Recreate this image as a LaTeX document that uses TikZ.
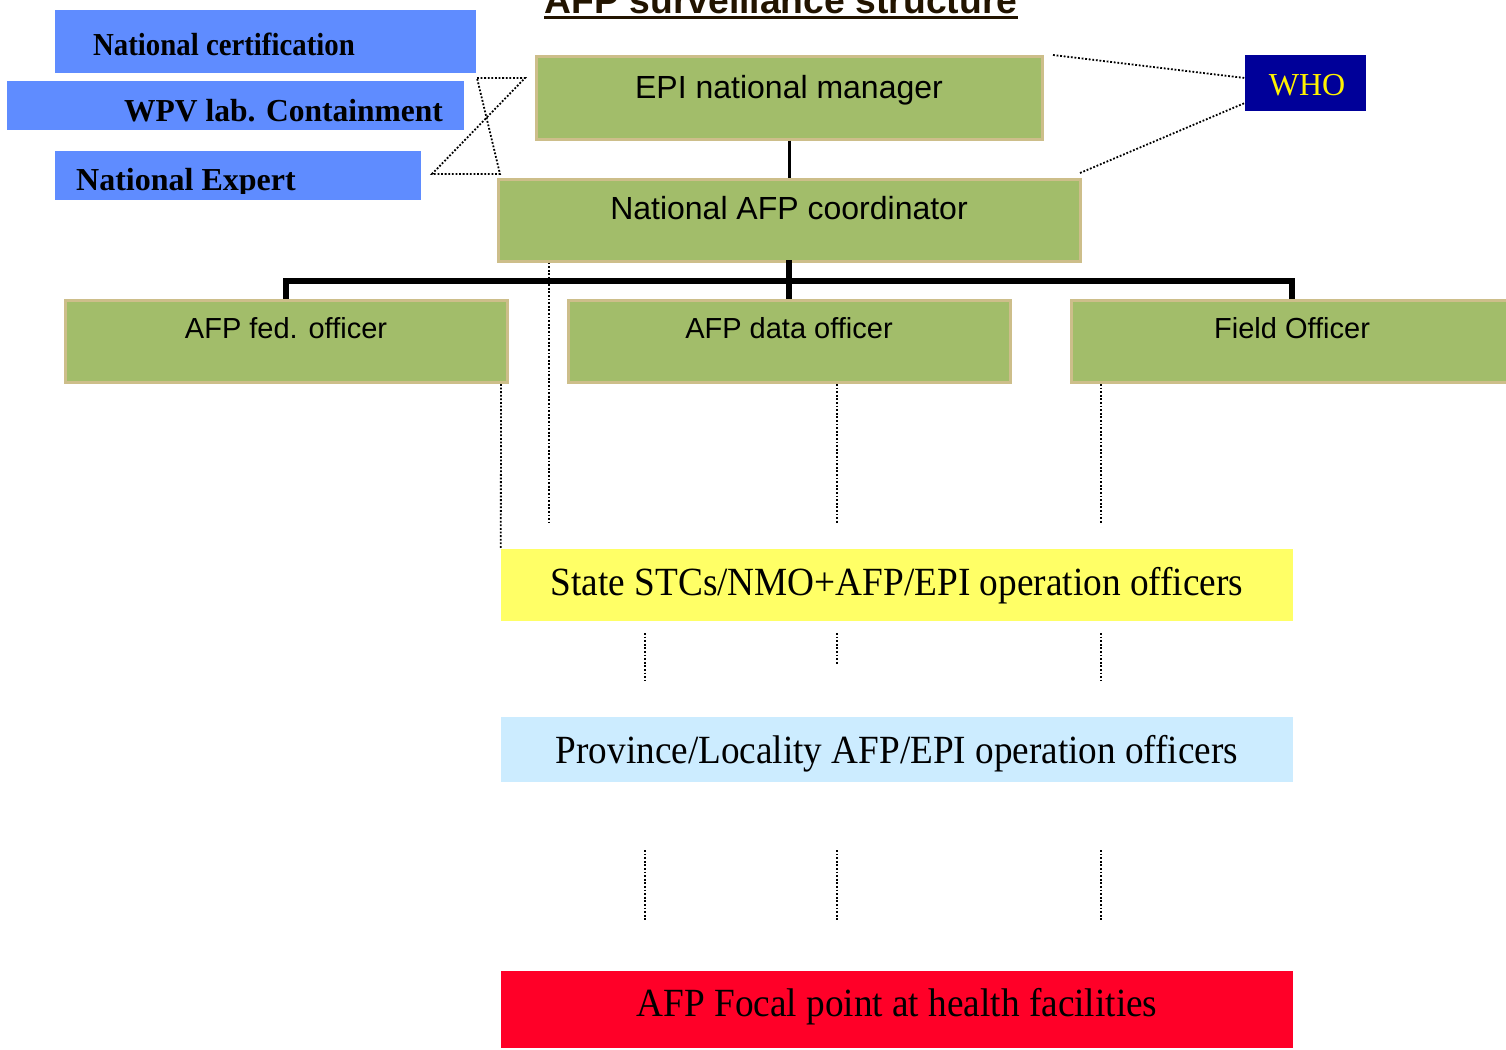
\documentclass[tikz,border=0pt]{standalone}
\usepackage{fontspec}
\usepackage{graphicx}
\setmainfont{Liberation Serif}
\newfontfamily\arialf{Liberation Sans}
\definecolor{gfill}{RGB}{162,189,106}
\definecolor{gbord}{RGB}{205,190,138}
\definecolor{bfill}{RGB}{95,140,255}
\definecolor{yfill}{RGB}{255,255,102}
\definecolor{lbfill}{RGB}{204,236,255}
\definecolor{rfill}{RGB}{255,0,40}
\definecolor{whofill}{RGB}{0,0,153}
\definecolor{titlec}{RGB}{34,20,0}
\begin{document}
\begin{tikzpicture}[x=1pt,y=-1pt,
  greenbox/.style={draw=gbord,line width=3pt,fill=gfill,inner sep=0pt},
  bluebox/.style={fill=bfill,inner sep=0pt},
  plainbox/.style={inner sep=0pt},
  txt/.style={inner sep=0pt,anchor=base},
  gtxtA/.style={txt,font=\arialf\fontsize{32}{38}\selectfont},
  gtxtB/.style={txt,font=\arialf\fontsize{29}{35}\selectfont},
  btxt/.style={inner sep=0pt,anchor=base west,font=\bfseries\fontsize{32}{38}\selectfont},
  ltxt/.style={txt,font=\fontsize{40}{46}\selectfont},
  dots/.style={line width=1.8pt,dash pattern=on 1.8pt off 1.8pt},
  thin/.style={line width=3pt},
  thick/.style={line width=5.5pt}]
\useasboundingbox (0,0) rectangle (1506,1049);
% title
\node[txt,font=\arialf\bfseries\fontsize{37.3}{44}\selectfont,text=titlec] (title) at (781,14) {AFP surveillance structure};
\draw[titlec,line width=3pt] ([yshift=-3.5pt]title.base west) -- ([yshift=-3.5pt]title.base east);
% blue boxes
\node[bluebox,minimum width=421pt,minimum height=63pt] (cert) at (265.5,41.5) {};
\node[btxt] (certt) at (93,56) {\scalebox{0.9}[1]{National certification}};
\node[bluebox,minimum width=457pt,minimum height=49pt] (wpv) at (235.5,105.5) {};
\node[btxt] (wpvt) at (124,121) {\scalebox{0.985}[1]{WPV lab. Containment}};
\node[bluebox,minimum width=366pt,minimum height=49pt] (expert) at (238,175.5) {};
\begin{scope}
\clip (55,151) rectangle (421,193);
\node[btxt] (expertt) at (76,190) {National Expert};
\end{scope}
% green boxes
\node[greenbox,minimum width=506pt,minimum height=82pt] (epi) at (789,98) {};
\node[gtxtA] (epit) at (789,98) {EPI national manager};
\node[greenbox,minimum width=582pt,minimum height=82pt] (coord) at (789,220) {};
\node[gtxtA] (coordt) at (789,219) {National AFP coordinator};
\node[greenbox,minimum width=442pt,minimum height=82pt] (fed) at (286,341) {};
\node[gtxtB] (fedt) at (286,338) {AFP fed. officer};
\node[greenbox,minimum width=442pt,minimum height=82pt] (data) at (789,341) {};
\node[gtxtB] (datat) at (789,338) {AFP data officer};
\node[greenbox,minimum width=442pt,minimum height=82pt] (field) at (1292,341) {};
\node[gtxtB] (fieldt) at (1292,338) {Field Officer};
% WHO
\node[plainbox,fill=whofill,minimum width=121pt,minimum height=56pt] (who) at (1305.5,83) {};
\node[txt,font=\fontsize{32}{38}\selectfont,text=yellow] (whot) at (1307,95) {WHO};
% lower boxes
\node[plainbox,fill=yfill,minimum width=792pt,minimum height=72pt] (state) at (897,585) {};
\node[ltxt] (statet) at (897,595) {\scalebox{0.932}[1]{State STCs/NMO+AFP/EPI operation officers}};
\node[plainbox,fill=lbfill,minimum width=792pt,minimum height=65pt] (prov) at (897,749.5) {};
\node[ltxt] (provt) at (897,763) {\scalebox{0.93}[1]{Province/Locality AFP/EPI operation officers}};
\node[plainbox,fill=rfill,minimum width=792pt,minimum height=77pt] (focal) at (897,1009.5) {};
\node[ltxt] (focalt) at (897,1016) {\scalebox{0.932}[1]{AFP Focal point at health facilities}};
% solid connectors
\draw[thin] (epi.south) -- (coord.north);
\coordinate (hl) at (286,281);
\coordinate (hr) at (1292,281);
\draw[thick] ([yshift=2.5pt]coord.south -| data.north) -- (data.north);
\draw[thick] (hl -| fed.north) -- (fed.north);
\draw[thick] (hr -| field.north) -- (field.north);
\draw[thick] ([xshift=-2.75pt]hl) -- ([xshift=2.75pt]hr);
% WHO dotted
\coordinate (w1) at (1053,55);
\coordinate (w2) at (1080,173);
\draw[dots] (w1) -- (who.west |- 0,78);
\draw[dots] (w2) -- (who.west |- 0,103);
% bowtie dotted
\coordinate (b1) at (477,78);
\coordinate (b2) at (525,78);
\coordinate (b3) at (432,174);
\coordinate (b4) at (500,174);
\draw[dots] (b1) -- (b2) -- (b3) -- (b4) -- cycle;
% vertical dotted
\coordinate (v1) at (549,523);
\draw[dots] (coord.south -| v1) -- (v1);
\coordinate (v2a) at (501,384);
\draw[dots] (v2a) -- (state.north west);
\coordinate (v3a) at (837,384);
\coordinate (v3b) at (837,523);
\draw[dots] (v3a) -- (v3b);
\coordinate (v4a) at (1101,384);
\coordinate (v4b) at (1101,523);
\draw[dots] (v4a) -- (v4b);
\coordinate (m1a) at (645,633); \coordinate (m1b) at (645,681);
\coordinate (m2a) at (837,633); \coordinate (m2b) at (837,665);
\coordinate (m3a) at (1101,633); \coordinate (m3b) at (1101,681);
\draw[dots] (m1a) -- (m1b);
\draw[dots] (m2a) -- (m2b);
\draw[dots] (m3a) -- (m3b);
\coordinate (n1a) at (645,850); \coordinate (n1b) at (645,920);
\coordinate (n2a) at (837,850); \coordinate (n2b) at (837,920);
\coordinate (n3a) at (1101,850); \coordinate (n3b) at (1101,920);
\draw[dots] (n1a) -- (n1b);
\draw[dots] (n2a) -- (n2b);
\draw[dots] (n3a) -- (n3b);
\end{tikzpicture}
\end{document}
